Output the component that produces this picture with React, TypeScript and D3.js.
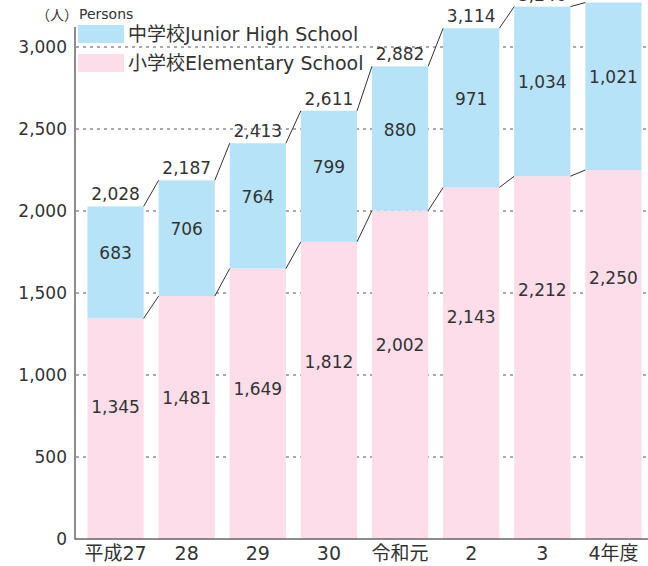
import React from "react";
import * as d3 from "d3";

const categories = ["平成27", "28", "29", "30", "令和元", "2", "3", "4年度"];
const elementary = [1345, 1481, 1649, 1812, 2002, 2143, 2212, 2250];
const juniorHigh = [683, 706, 764, 799, 880, 971, 1034, 1021];
const totals = [2028, 2187, 2413, 2611, 2882, 3114, 3246, 3271];
// level (in persons) where the elementary value label sits
const elemLabelAt = [805, 860, 915, 1079, 1183, 1355, 1518, 1591];
const yTicks = [0, 500, 1000, 1500, 2000, 2500, 3000];

const W = 648;
const H = 566;
const BLUE = "#b7e3f8";
const PINK = "#fcdde9";
const TEXT = "#333333";
const FONT = "'DejaVu Sans', 'Noto Sans CJK JP', sans-serif";
const fmt = d3.format(",");

export default function App() {
  const y = d3.scaleLinear().domain([0, 3000]).range([539, 47]);
  const x = d3
    .scaleBand<string>()
    .domain(categories)
    .range([80, 649])
    .paddingInner(0.21)
    .paddingOuter(0.105);
  const bw = x.bandwidth();

  const connectors: { x1: number; y1: number; x2: number; y2: number }[] = [];
  for (let i = 0; i < categories.length - 1; i++) {
    const xa = (x(categories[i]) as number) + bw;
    const xb = x(categories[i + 1]) as number;
    connectors.push({ x1: xa, y1: y(totals[i]), x2: xb, y2: y(totals[i + 1]) });
    connectors.push({ x1: xa, y1: y(elementary[i]), x2: xb, y2: y(elementary[i + 1]) });
  }

  return (
    <svg
      width={W}
      height={H}
      style={{ position: "absolute", left: 0, top: 0, fontFamily: FONT }}
    >
      <rect x={0} y={0} width={W} height={H} fill="#fff" />
      {/* grid lines */}
      {yTicks.filter((t) => t > 0).map((t) => (
        <line
          key={t}
          x1={76}
          x2={W}
          y1={y(t)}
          y2={y(t)}
          stroke="#555"
          strokeWidth={1}
          strokeDasharray="3 4"
        />
      ))}
      {/* bars */}
      {categories.map((c, i) => {
        const x0 = x(c) as number;
        return (
          <g key={c}>
            <rect x={x0} y={y(elementary[i])} width={bw} height={y(0) - y(elementary[i])} fill={PINK} />
            <rect
              x={x0}
              y={y(elementary[i] + juniorHigh[i])}
              width={bw}
              height={y(elementary[i]) - y(elementary[i] + juniorHigh[i])}
              fill={BLUE}
            />
          </g>
        );
      })}
      {/* connectors */}
      {connectors.map((l, i) => (
        <line key={i} x1={l.x1} y1={l.y1} x2={l.x2} y2={l.y2} stroke="#333" strokeWidth={1} />
      ))}
      {/* labels */}
      {categories.map((c, i) => {
        const cx = (x(c) as number) + bw / 2;
        const blueMid = (y(elementary[i]) + y(elementary[i] + juniorHigh[i])) / 2 - 9;
        return (
          <g key={c} fill={TEXT} fontSize={17} textAnchor="middle">
            <text x={cx} y={y(totals[i]) - 6}>{fmt(totals[i])}</text>
            <text x={cx} y={blueMid} dominantBaseline="central">{fmt(juniorHigh[i])}</text>
            <text x={cx} y={y(elemLabelAt[i])} dominantBaseline="central">{fmt(elementary[i])}</text>
            <text x={cx} y={553} dominantBaseline="central" fontSize={19}>{c}</text>
          </g>
        );
      })}
      {/* axes */}
      <line x1={75} x2={75} y1={27} y2={539.5} stroke="#666" strokeWidth={1.5} />
      <line x1={75} x2={W} y1={539} y2={539} stroke="#666" strokeWidth={1.5} />
      {yTicks.map((t) => (
        <text
          key={t}
          x={67}
          y={y(t)}
          textAnchor="end"
          dominantBaseline="central"
          fontSize={17}
          fill={TEXT}
        >
          {fmt(t)}
        </text>
      ))}
      {/* unit */}
      <text x={36} y={14} fontSize={14} fill={TEXT} dominantBaseline="central">
        <tspan fontFamily="'Noto Sans CJK JP', sans-serif">（人）</tspan>
        <tspan dx={1}>Persons</tspan>
      </text>
      {/* legend */}
      <rect x={78} y={25} width={46} height={18} fill={BLUE} />
      <text x={128} y={34} fontSize={19} fill={TEXT} dominantBaseline="central">中学校Junior High School</text>
      <rect x={78} y={54} width={46} height={18} fill={PINK} />
      <text x={128} y={63} fontSize={19} fill={TEXT} dominantBaseline="central">小学校Elementary School</text>
    </svg>
  );
}
